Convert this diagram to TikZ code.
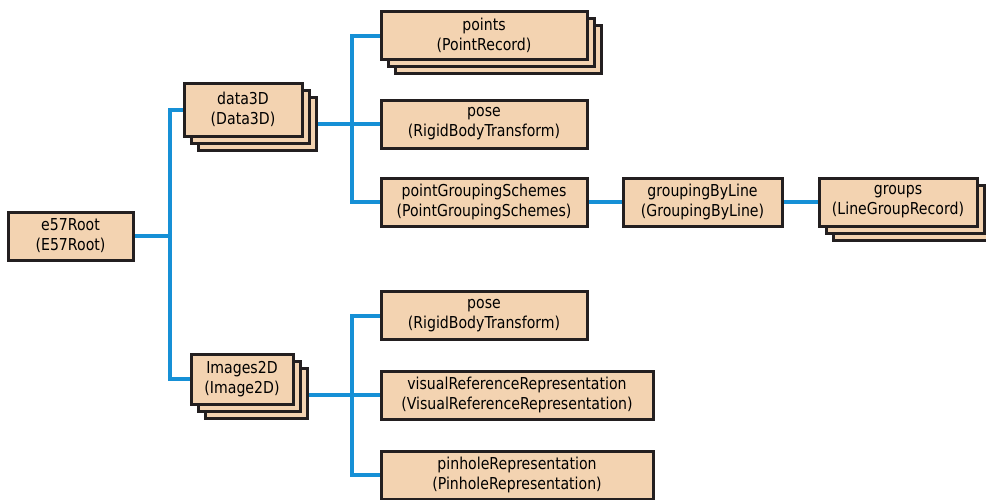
\documentclass[tikz,border=0pt]{standalone}
\usepackage{fontspec}
\setmainfont{DejaVu Sans}[FakeStretch=0.86]
\usetikzlibrary{positioning,shadows,backgrounds}
\definecolor{boxfill}{RGB}{243,211,177}
\definecolor{boxline}{RGB}{35,31,32}
\definecolor{linkblue}{RGB}{22,144,214}

\begin{document}
\begin{tikzpicture}[x=0.5pt,y=-0.5pt,
   box/.style={draw=boxline,fill=boxfill,line width=1.5pt,align=center,
     inner sep=0pt,minimum height=24pt,font=\fontsize{8.2}{10}\selectfont},
   stack/.style={
     copy shadow={shadow xshift=7pt,shadow yshift=-7pt,draw=boxline,fill=boxfill,line width=1.5pt},
     copy shadow={shadow xshift=3.5pt,shadow yshift=-3.5pt,draw=boxline,fill=boxfill,line width=1.5pt}},
   link/.style={draw=linkblue,line width=2pt}]
   \useasboundingbox (0,0) rectangle (986,499);
   \node[box,minimum width=62.5pt] (root) at (70.5,236) {e57Root\\(E57Root)};
   \node[box,stack,minimum width=59pt,minimum height=26.5pt] (data3D) at (243,109.5) {data3D\\(Data3D)};
   \node[box,stack,minimum width=51pt,minimum height=25pt] (images) at (242,379) {Images2D\\(Image2D)};
   \node[box,stack,minimum width=103pt] (points) at (484,35.5) {points\\(PointRecord)};
   \node[box,minimum width=103pt] (pose) at (484,124) {pose\\(RigidBodyTransform)};
   \node[box,minimum width=103pt] (schemes) at (484,202) {pointGroupingSchemes\\(PointGroupingSchemes)};
   \node[box,minimum width=79.5pt] (byLine) at (702.5,202) {groupingByLine\\(GroupingByLine)};
   \node[box,stack,minimum width=79pt] (groups) at (898,202) {groups\\(LineGroupRecord)};
   \node[box,minimum width=103pt] (imgPose) at (484,315.5) {pose\\(RigidBodyTransform)};
   \node[box,minimum width=136pt] (visual) at (517,395) {visualReferenceRepresentation\\(VisualReferenceRepresentation)};
   \node[box,minimum width=136pt] (pinhole) at (517,475) {pinholeRepresentation\\(PinholeRepresentation)};
   \coordinate (rootBus) at (170,236);
   \coordinate (dataBus) at (352,124);
   \coordinate (imgBus) at (352,395);
   \begin{scope}[on background layer]
    \draw[link] (root.east) -- (rootBus);
    \draw[link] (data3D.west) -| (rootBus) |- (images.west);
    \draw[link] (pose.west) -- (pose.west -| data3D.east);
    \draw[link] (points.west) -| (dataBus) |- (schemes.west);
    \draw[link] (visual.west) -- (visual.west -| images.east);
    \draw[link] (imgPose.west) -| (imgBus) |- (pinhole.west);
    \draw[link] (schemes.east) -- (byLine.west);
    \draw[link] (byLine.east) -- (groups.west);
   \end{scope}
\end{tikzpicture}
\end{document}
